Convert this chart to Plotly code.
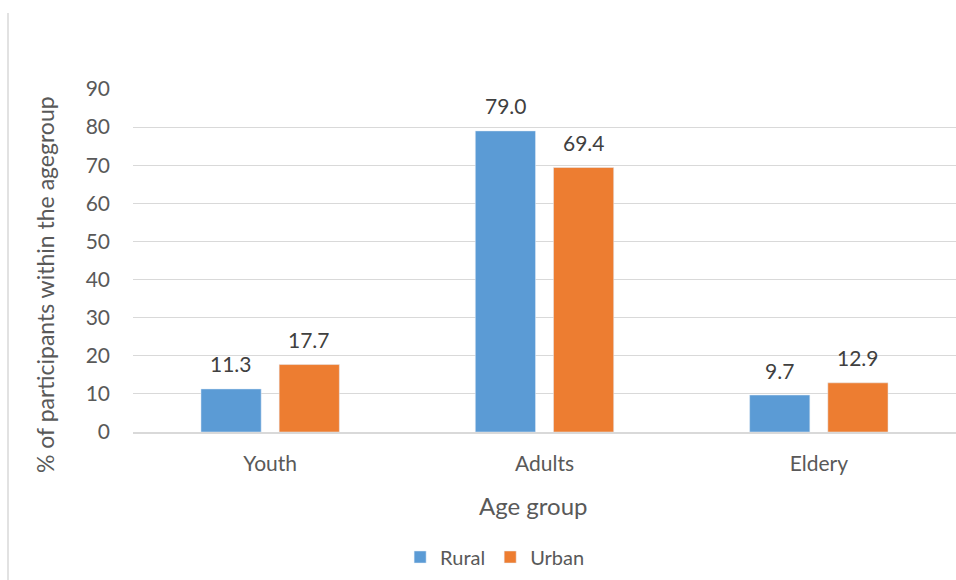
import plotly.graph_objects as go

# Share of participants (%) by age group and residence
age_groups = ["Youth", "Adults", "Eldery"]
rural = [11.3, 79.0, 9.7]
urban = [17.7, 69.4, 12.9]
y_ticks = [0, 10, 20, 30, 40, 50, 60, 70, 80, 90]

FONT = "Lato"
TXT = "#595959"
LBL = "#404040"
GRID = "#D9D9D9"
BAR_OFFSET = 39  # px from category centre to each bar centre

fig = go.Figure()
fig.add_trace(go.Bar(name="Rural", x=age_groups, y=rural, marker_color="#5B9BD5"))
fig.add_trace(go.Bar(name="Urban", x=age_groups, y=urban, marker_color="#ED7D31"))

# value labels above each bar
labels = []
for values, shift in ((rural, -BAR_OFFSET), (urban, BAR_OFFSET)):
    for cat, v in zip(age_groups, values):
        labels.append(dict(
            x=cat, y=v, text=f"{v:.1f}", showarrow=False, xshift=shift,
            yanchor="middle", yshift=25,
            font=dict(size=21, color=LBL, family=FONT),
        ))

labels.append(dict(
    text="% of participants within the agegroup", textangle=-90,
    xref="paper", yref="paper", x=(45 - 133) / 823, y=(432 - 285) / 343,
    showarrow=False, xanchor="center", yanchor="middle",
    font=dict(size=23, color=TXT, family=FONT),
))
labels.append(dict(
    text="Age group", xref="paper", yref="paper",
    x=(533 - 133) / 823, y=(432 - 505) / 343,
    showarrow=False, xanchor="center", yanchor="middle",
    font=dict(size=24, color=TXT, family=FONT),
))

fig.update_layout(
    width=956, height=580,
    margin=dict(l=133, r=0, t=89, b=148),
    paper_bgcolor="white", plot_bgcolor="white",
    font=dict(family=FONT, color=TXT, size=21),
    barmode="group", bargap=0.43, bargroupgap=0.23,
    showlegend=True,
    legend=dict(orientation="h", x=0.44, xanchor="center", y=(432 - 557) / 343, yanchor="middle",
                font=dict(size=20, color=TXT, family=FONT), itemwidth=30),
    xaxis=dict(
        showgrid=False, showline=True, linecolor=GRID, linewidth=1.5,
        ticks="", tickfont=dict(size=21, color=TXT), ticklabelstandoff=12,
    ),
    yaxis=dict(
        range=[0, 90], tickvals=y_ticks, showgrid=True, gridcolor=GRID, gridwidth=1,
        zeroline=False, showline=False, ticks="", ticklabelstandoff=22,
        tickfont=dict(size=21, color=TXT),
    ),
    shapes=[dict(type="line", xref="paper", yref="paper",
                 x0=(8 - 133) / 823, x1=(8 - 133) / 823, y0=(432 - 13) / 343, y1=(432 - 600) / 343,
                 line=dict(color=GRID, width=1.5))],
    annotations=labels,
)

fig.write_html("out.html")
